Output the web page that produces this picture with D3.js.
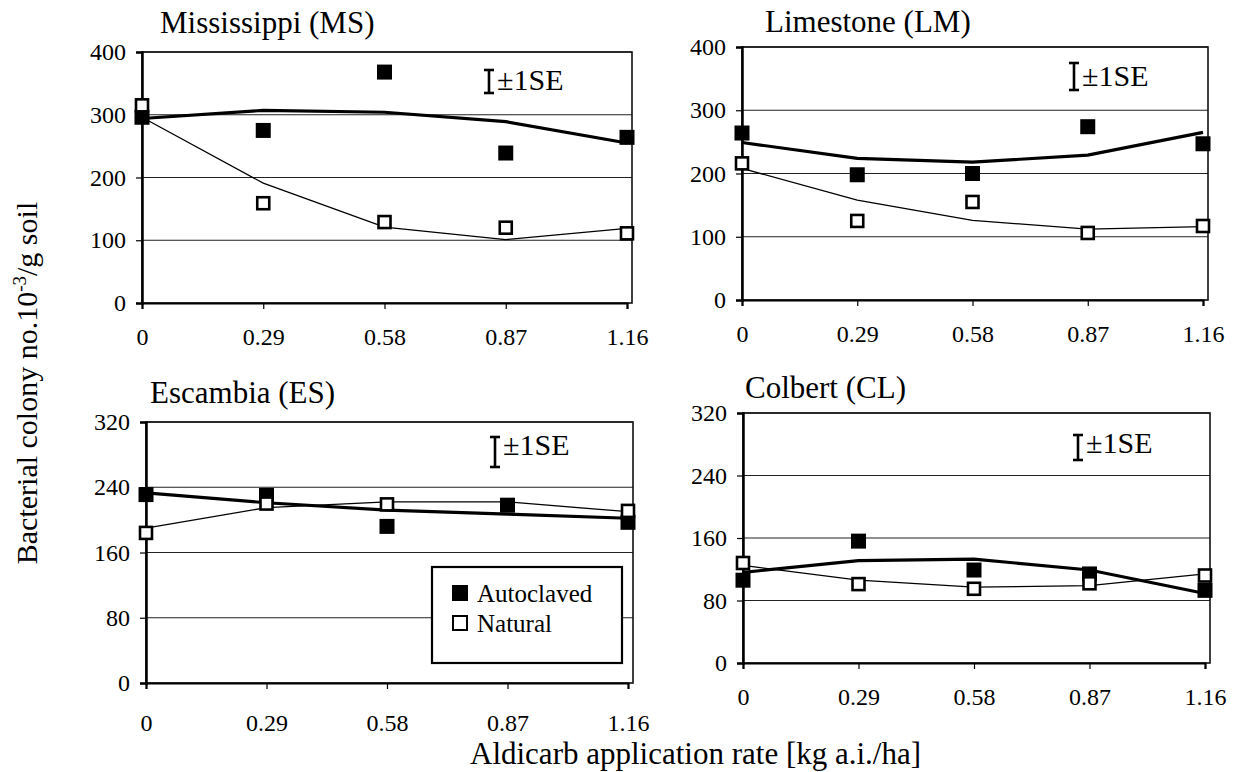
<!DOCTYPE html>
<html>
<head>
<meta charset="utf-8">
<script src="https://cdn.jsdelivr.net/npm/d3@7"></script>
<style>
  body { margin: 0; background: #fff; }
  svg { display: block; font-family: "Liberation Serif", "Times New Roman", serif; }
</style>
</head>
<body>
<svg width="1253" height="772"></svg>
<script>
const width = 1253;
const height = 772;

// aldicarb rate, kg a.i./ha
const rates = [0, 0.29, 0.58, 0.87, 1.16];
const rateLabels = ["0", "0.29", "0.58", "0.87", "1.16"];
const soils = ["Mississippi (MS)", "Limestone (LM)", "Escambia (ES)", "Colbert (CL)"];
const ticksTop = [0, 100, 200, 300, 400];
const ticksBottom = [0, 80, 160, 240, 320];
const seriesNames = ["Autoclaved", "Natural"];

// colony counts, measured points
const msAutoclaved = [296, 275, 368, 239, 264];
const msNatural = [315, 159, 129, 120, 111];
const lmAutoclaved = [264, 198, 200, 274, 247];
const lmNatural = [216, 125, 155, 106, 117];
const esAutoclaved = [231, 230, 192, 218, 197];
const esNatural = [184, 220, 219, null, 211];
const clAutoclaved = [106, 156, 119, 114, 93];
const clNatural = [128, 101, 95, 102, 112];

// fitted curves
const msAutoclavedFit = [294, 307, 304, 289, 255];
const msNaturalFit = [296, 191, 121, 101, 119];
const lmAutoclavedFit = [249, 224, 218, 229, 265];
const lmNaturalFit = [208, 158, 126, 112, 116];
const esAutoclavedFit = [233, 221, 212, 207, 202];
const esNaturalFit = [190, 215, 222, 222, 210];
const clAutoclavedFit = [116, 131, 133, 119, 89];
const clNaturalFit = [125, 106, 97, 99, 114];

const panels = [
  { title: soils[0], auto: msAutoclaved, nat: msNatural, autoFit: msAutoclavedFit, natFit: msNaturalFit,
    ticks: ticksTop, left: 142, right: 632, top: 52, bottom: 303, labelGap: 19,
    titleX: 160, titleY: 33, seX: 489, seTop: 70, seBottom: 93, seTextY: 90 },
  { title: soils[1], auto: lmAutoclaved, nat: lmNatural, autoFit: lmAutoclavedFit, natFit: lmNaturalFit,
    ticks: ticksTop, left: 742, right: 1208, top: 47, bottom: 300, labelGap: 19,
    titleX: 765, titleY: 32, seX: 1074, seTop: 63, seBottom: 90, seTextY: 86 },
  { title: soils[2], auto: esAutoclaved, nat: esNatural, autoFit: esAutoclavedFit, natFit: esNaturalFit,
    ticks: ticksBottom, left: 146, right: 633, top: 422, bottom: 683, labelGap: 25,
    titleX: 150, titleY: 403, seX: 495, seTop: 437, seBottom: 467, seTextY: 455, legend: true },
  { title: soils[3], auto: clAutoclaved, nat: clNatural, autoFit: clAutoclavedFit, natFit: clNaturalFit,
    ticks: ticksBottom, left: 743, right: 1210, top: 413, bottom: 663, labelGap: 19,
    titleX: 745, titleY: 398, seX: 1078, seTop: 435, seBottom: 460, seTextY: 453 }
];

const svg = d3.select("svg");

panels.forEach(p => {
  const g = svg.append("g");

  const x = d3.scaleLinear()
    .domain([0, 1.16])
    .range([p.left, p.right - 5]);
  const y = d3.scaleLinear()
    .domain([0, d3.max(p.ticks)])
    .range([p.bottom, p.top]);

  // grid
  g.append("g")
    .selectAll("line")
    .data(p.ticks.slice(1))
    .join("line")
    .attr("x1", p.left)
    .attr("x2", p.right)
    .attr("y1", d => y(d))
    .attr("y2", d => y(d))
    .attr("stroke", "#222")
    .attr("stroke-width", 1.2);

  // frame
  g.append("rect")
    .attr("x", p.left)
    .attr("y", p.top)
    .attr("width", p.right - p.left)
    .attr("height", p.bottom - p.top)
    .attr("fill", "none")
    .attr("stroke", "#111")
    .attr("stroke-width", 1.6);

  const yAxis = g.append("g")
    .attr("transform", `translate(${p.left},0)`)
    .call(d3.axisLeft(y).tickValues(p.ticks).tickSize(6).tickPadding(10));
  yAxis.select(".domain").attr("stroke-width", 2.5);

  const xAxis = g.append("g")
    .attr("transform", `translate(0,${p.bottom})`)
    .call(d3.axisBottom(x)
      .tickValues(rates)
      .tickFormat((d, i) => rateLabels[i])
      .tickSize(6)
      .tickPadding(p.labelGap));
  xAxis.select(".domain").attr("stroke-width", 2.2);

  g.selectAll(".tick text")
    .attr("font-family", "Liberation Serif")
    .attr("font-size", 24)
    .attr("fill", "#000");
  g.selectAll(".tick line").attr("stroke-width", 1.2);

  // fitted lines
  const line = vals => d3.line()
    .x((d, i) => x(rates[i]))
    .y(d => y(d))(vals);

  g.append("path")
    .attr("d", line(p.natFit))
    .attr("fill", "none")
    .attr("stroke", "#000")
    .attr("stroke-width", 1.3);
  g.append("path")
    .attr("d", line(p.autoFit))
    .attr("fill", "none")
    .attr("stroke", "#000")
    .attr("stroke-width", 3.2);

  // points
  const size = 15;
  g.append("g")
    .selectAll("rect")
    .data(p.auto.map((v, i) => ({ r: rates[i], v })))
    .join("rect")
    .attr("x", d => x(d.r) - size / 2)
    .attr("y", d => y(d.v) - size / 2)
    .attr("width", size)
    .attr("height", size)
    .attr("fill", "#000");

  g.append("g")
    .selectAll("rect")
    .data(p.nat.map((v, i) => ({ r: rates[i], v })).filter(d => d.v != null))
    .join("rect")
    .attr("x", d => x(d.r) - (size - 3) / 2)
    .attr("y", d => y(d.v) - (size - 3) / 2)
    .attr("width", size - 3)
    .attr("height", size - 3)
    .attr("fill", "#fff")
    .attr("stroke", "#000")
    .attr("stroke-width", 2.6);

  // title
  g.append("text")
    .attr("x", p.titleX)
    .attr("y", p.titleY)
    .attr("font-size", 31)
    .text(p.title);

  // ±1SE marker
  const se = g.append("g").attr("stroke", "#000").attr("stroke-width", 2.6);
  se.append("line").attr("x1", p.seX).attr("x2", p.seX).attr("y1", p.seTop).attr("y2", p.seBottom);
  se.append("line").attr("x1", p.seX - 5).attr("x2", p.seX + 5).attr("y1", p.seTop).attr("y2", p.seTop);
  se.append("line").attr("x1", p.seX - 5).attr("x2", p.seX + 5).attr("y1", p.seBottom).attr("y2", p.seBottom);
  g.append("text")
    .attr("x", p.seX + 8)
    .attr("y", p.seTextY)
    .attr("font-size", 30)
    .text("±1SE");

  if (p.legend) {
    const lg = g.append("g").attr("transform", "translate(432,567)");
    lg.append("rect")
      .attr("width", 190)
      .attr("height", 96)
      .attr("fill", "#fff")
      .attr("stroke", "#000")
      .attr("stroke-width", 2.2);
    seriesNames.forEach((name, i) => {
      const cy = 26 + i * 30;
      lg.append("rect")
        .attr("x", i === 0 ? 20 : 21)
        .attr("y", cy - (i === 0 ? 8 : 7))
        .attr("width", i === 0 ? 16 : 14)
        .attr("height", i === 0 ? 16 : 14)
        .attr("fill", i === 0 ? "#000" : "#fff")
        .attr("stroke", "#000")
        .attr("stroke-width", i === 0 ? 0 : 2);
      lg.append("text")
        .attr("x", 45)
        .attr("y", cy + 9)
        .attr("font-size", 25)
        .text(name);
    });
  }
});

// axis titles
const yTitle = svg.append("text")
  .attr("transform", "translate(37,383) rotate(-90)")
  .attr("text-anchor", "middle")
  .attr("font-size", 30);
yTitle.append("tspan").text("Bacterial colony no.10");
yTitle.append("tspan").attr("font-size", 19).attr("dy", -11).text("-3");
yTitle.append("tspan").attr("dy", 11).text("/g soil");

svg.append("text")
  .attr("x", 470)
  .attr("y", 764)
  .attr("font-size", 31)
  .text("Aldicarb application rate [kg a.i./ha]");
</script>
</body>
</html>
